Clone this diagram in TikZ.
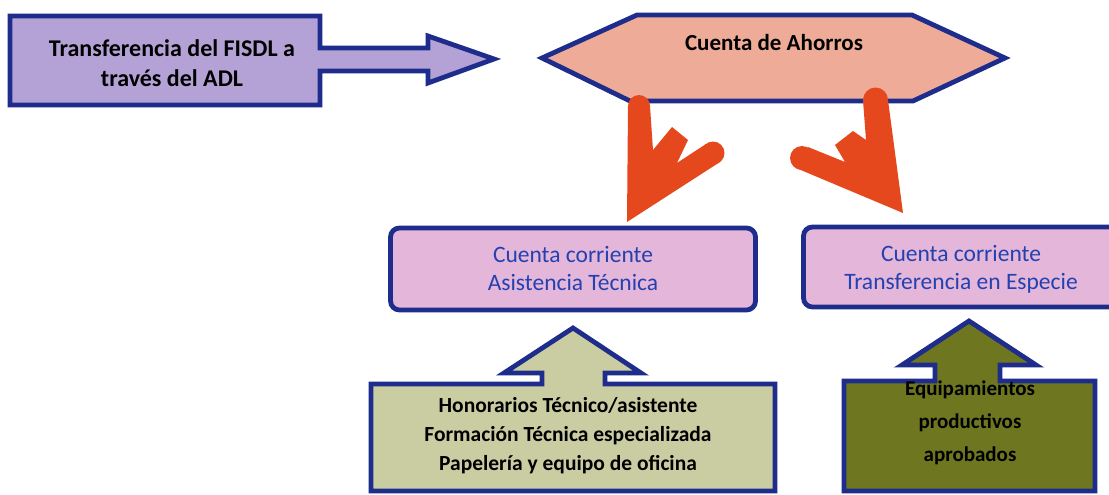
\documentclass[tikz,border=0pt]{standalone}
\usepackage{fontspec}
\setmainfont{Carlito}
\definecolor{navy}{RGB}{30,45,140}
\definecolor{lav}{RGB}{180,162,214}
\definecolor{salmon}{RGB}{238,172,152}
\definecolor{pinkbox}{RGB}{228,182,218}
\definecolor{bluetxt}{RGB}{35,65,175}
\definecolor{redarr}{RGB}{230,72,30}
\definecolor{paleolive}{RGB}{202,205,162}
\definecolor{olive}{RGB}{110,118,32}
\tikzset{
  shapeline/.style={draw=navy, line width=4.8pt, line join=miter},
  boldtxt/.style={align=center, font=\bfseries\fontsize{23.5}{30}\selectfont, text=black},
  pinktxt/.style={align=center, font=\fontsize{23.5}{28}\selectfont, text=bluetxt},
  pinkbox/.style={shapeline, fill=pinkbox, rounded corners=9pt},
  redshape/.style={fill=redarr, draw=none}
}
\begin{document}
\begin{tikzpicture}[x=1pt,y=-1pt]
\useasboundingbox (0,0) rectangle (1109,495);
\fill[white] (0,0) rectangle (1109,495);
% purple arrow callout
\draw[shapeline, fill=lav] (10,16) -- (320,16) -- (320,48) -- (428,48) -- (428,36) -- (494,59) -- (428,83) -- (428,71) -- (320,71) -- (320,105) -- (10,105) -- cycle;
\node[boldtxt, font=\bfseries\fontsize{24}{30}\selectfont] (tA) at (172,63) {Transferencia del FISDL a\\través del ADL};
% hexagon
\draw[shapeline, fill=salmon] (542,58) -- (637,15) -- (912,15) -- (1005,58) -- (913,101) -- (630,101) -- cycle;
\node[boldtxt, font=\bfseries\fontsize{23}{30}\selectfont] (tB) at (774,43) {Cuenta de Ahorros};
% pink boxes
\node[pinkbox, minimum width=365pt, minimum height=82pt, pinktxt] (cc1) at (573,269) {Cuenta corriente\\Asistencia Técnica};
\node[pinkbox, minimum width=319pt, minimum height=80pt] (cc2bg) at (963,267) {};
\node[pinktxt] (cc2) at (961,269) {Cuenta corriente\\Transferencia en Especie};
% red arrows
\fill[redshape] (650,106) -- (653,150) -- (672,127) -- (688,140) -- (677,163) -- (706,144) -- (720,162) -- (627,222) -- (628,106) -- cycle;
\fill[redshape] (639,106) circle (11);
\fill[redshape] (713,153) circle (11.5);
\fill[redshape] (888,100) -- (903,213) -- (796,168) -- (808,147) -- (845,162) -- (835,145) -- (853,131) -- (866,140) -- (863,100) -- cycle;
\fill[redshape] (875.5,100) circle (12.5);
\fill[redshape] (802,158) circle (12);
% bottom left up-arrow callout
\draw[shapeline, fill=paleolive] (371,384) -- (542,384) -- (542,373) -- (504,373) -- (573,328) -- (641,373) -- (605,373) -- (605,384) -- (775,384) -- (775,491) -- (371,491) -- cycle;
\node[boldtxt, font=\bfseries\fontsize{21.5}{29}\selectfont] (tC) at (568,436) {Honorarios Técnico/asistente\\Formación Técnica especializada\\Papelería y equipo de oficina};
% bottom right up-arrow callout
\draw[shapeline, fill=olive] (844,381) -- (935,381) -- (935,365) -- (902,365) -- (969,321) -- (1036,365) -- (1000,365) -- (1000,381) -- (1095,381) -- (1095,491) -- (844,491) -- cycle;
\node[boldtxt, font=\bfseries\fontsize{21}{33}\selectfont] (tD) at (970,423) {Equipamientos\\productivos\\aprobados};
\end{tikzpicture}
\end{document}
